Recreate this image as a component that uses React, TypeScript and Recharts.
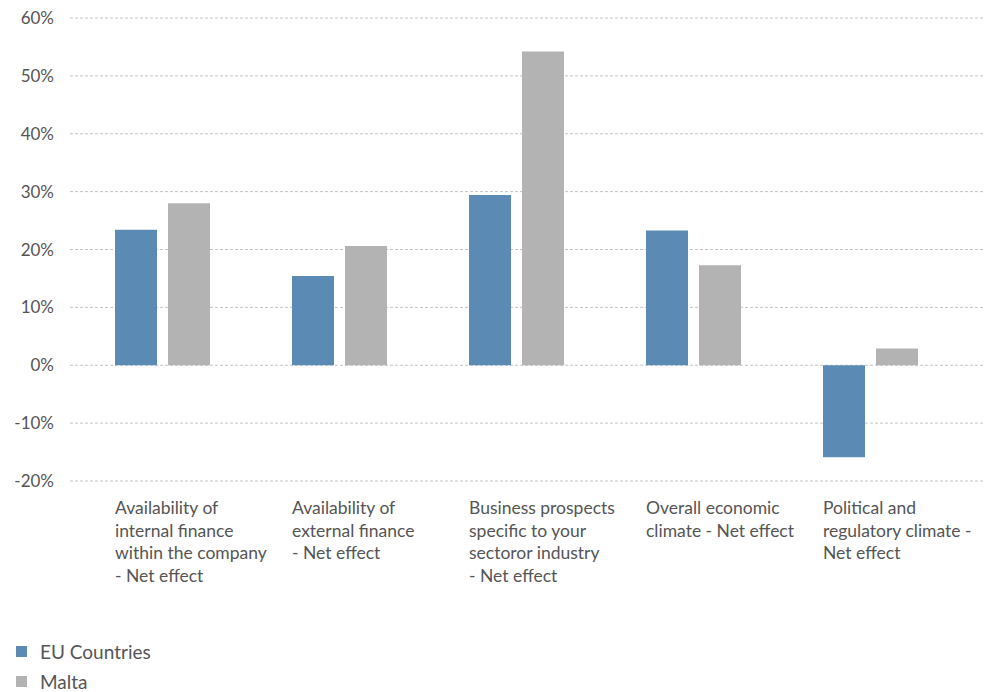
import * as React from "react";
import { BarChart, Bar, XAxis, YAxis, CartesianGrid } from "recharts";

const categories = [
  "Availability of\ninternal finance\nwithin the company\n- Net effect",
  "Availability of\nexternal finance\n- Net effect",
  "Business prospects\nspecific to your\nsectoror industry\n- Net effect",
  "Overall economic\nclimate - Net effect",
  "Political and\nregulatory climate -\nNet effect",
];
const euCountries = [23.4, 15.4, 29.4, 23.3, -15.9];
const malta = [28.0, 20.6, 54.2, 17.3, 2.9];
const yTicks = [-20, -10, 0, 10, 20, 30, 40, 50, 60];

const series = [
  { key: "eu", name: "EU Countries", color: "#5b8bb4" },
  { key: "malta", name: "Malta", color: "#b4b3b4" },
];

const data = categories.map((c, i) => ({ name: c, eu: euCountries[i], malta: malta[i] }));

const FONT = "Lato, 'Open Sans', sans-serif";
const TEXT = "#555555";

const CategoryTick = (props: any) => {
  const { x, y, payload } = props;
  const lines = String(payload.value).split("\n");
  return (
    <text x={x - 47.5} y={y} fill={TEXT} fontSize={17.5} fontFamily={FONT} textAnchor="start">
      {lines.map((l, i) => (
        <tspan key={i} x={x - 47.5} dy={i === 0 ? 25 : 22.6}>
          {l}
        </tspan>
      ))}
    </text>
  );
};

export default function App() {
  return (
    <div style={{ position: "absolute", left: 0, top: 0, width: 984, height: 692, background: "#fff" }}>
      <BarChart
        width={984}
        height={600}
        data={data}
        margin={{ top: 18, right: 0, left: 0, bottom: 0 }}
        barGap={11}
        barCategoryGap={41}
      >
        <CartesianGrid vertical={false} stroke="#c4c4c4" strokeDasharray="3 2" />
        <XAxis
          dataKey="name"
          height={119}
          axisLine={false}
          tickLine={false}
          interval={0}
          padding={{ left: 4, right: 25 }}
          tick={<CategoryTick />}
        />
        <YAxis
          width={70}
          domain={[-20, 60]}
          ticks={yTicks}
          axisLine={false}
          tickLine={false}
          tickSize={0}
          tickMargin={16}
          tickFormatter={(v) => `${v}%`}
          tick={{ fill: TEXT, fontSize: 17, fontFamily: FONT }}
        />
        {series.map((s) => (
          <Bar key={s.key} dataKey={s.key} name={s.name} fill={s.color} barSize={42} isAnimationActive={false} />
        ))}
      </BarChart>
      <div style={{ position: "absolute", left: 16, top: 636, fontFamily: FONT, fontSize: 19, color: TEXT }}>
        {series.map((s) => (
          <div key={s.key} style={{ display: "flex", alignItems: "center", height: 30 }}>
            <span style={{ display: "inline-block", width: 11, height: 11, background: s.color, marginRight: 13 }} />
            {s.name}
          </div>
        ))}
      </div>
    </div>
  );
}
